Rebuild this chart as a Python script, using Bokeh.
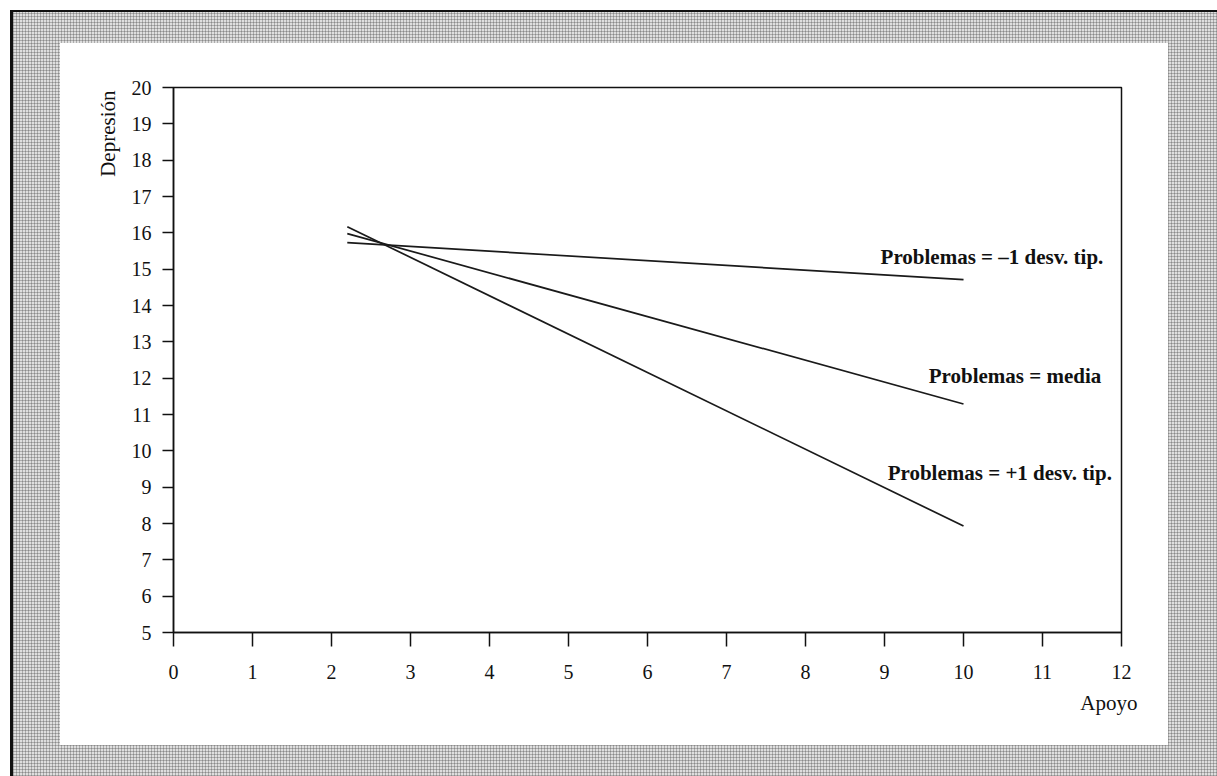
from bokeh.plotting import figure
from bokeh.models import Range1d, FixedTicker, Label, Title
from bokeh.embed import file_html
from bokeh.resources import INLINE

# ---- data ----
apoyo = [2.2, 10.0]
dep_low = [15.73, 14.71]    # Problemas = -1 desv. tip.
dep_mean = [15.98, 11.29]   # Problemas = media
dep_high = [16.17, 7.93]    # Problemas = +1 desv. tip.
series_labels = ["Problemas = \u20131 desv. tip.", "Problemas = media", "Problemas = +1 desv. tip."]
x_ticks = list(range(0, 13))
y_ticks = list(range(5, 21))
x_title = "Apoyo"
y_title = "Depresi\u00f3n"

SERIF = "Liberation Serif"
W, H = 1217, 776

p = figure(width=W, height=H, output_backend="svg", toolbar_location=None,
           x_range=Range1d(0, 12), y_range=Range1d(5, 20),
           min_border_left=173, min_border_right=96,
           min_border_top=87, min_border_bottom=144)
p.background_fill_color = "white"
p.border_fill_color = None
p.outline_line_color = "#111111"
p.outline_line_width = 1.5
p.grid.visible = False

# scanned-page look: halftone gray frame, white panel, black outer edges (host background)
bg_layers = [
    "linear-gradient(#111,#111) 10px 10px / 3px 766px no-repeat",
    "linear-gradient(#111,#111) 10px 10px / 1207px 2px no-repeat",
    "linear-gradient(#fff,#fff) 60px 43px / 1108px 702px no-repeat",
    "linear-gradient(#fff,#fff) 0px 0px / 10px 776px no-repeat",
    "linear-gradient(#fff,#fff) 0px 0px / 1217px 10px no-repeat",
    "radial-gradient(circle, #8a8a8a 0.8px, rgba(0,0,0,0) 1.3px) 0px 0px / 3px 3px repeat",
]
p.styles = {"background": ", ".join(bg_layers) + ", #dedede"}

for ax, ticks in ((p.xaxis[0], x_ticks), (p.yaxis[0], y_ticks)):
    ax.ticker = FixedTicker(ticks=ticks)
    ax.minor_tick_line_color = None
    ax.axis_line_color = "#111111"
    ax.axis_line_width = 1.5
    ax.major_tick_line_color = "#111111"
    ax.major_tick_line_width = 1.5
    ax.major_tick_in = 0
    ax.major_label_text_font = SERIF
    ax.major_label_text_font_size = "20px"
    ax.major_label_text_color = "#111111"
p.xaxis.major_tick_out = 14
p.xaxis.major_label_standoff = 18
p.yaxis.major_tick_out = 11
p.yaxis.major_label_standoff = 11

# axis titles as side titles (aligned to the axis ends, like the original)
p.add_layout(Title(text=y_title, align="right", offset=3, standoff=17,
                   text_font=SERIF, text_font_style="normal", text_font_size="21px",
                   text_color="#111111"), "left")
p.add_layout(Title(text=x_title, align="right", offset=-16, standoff=14,
                   text_font=SERIF, text_font_style="normal", text_font_size="21px",
                   text_color="#111111"), "below")

# lines
for ys in (dep_low, dep_mean, dep_high):
    p.line(apoyo, ys, line_color="#1a1a1a", line_width=1.7)

# series labels
label_pos = [(8.95, 15.34), (9.56, 12.07), (9.04, 9.39)]
for txt, (lx, ly) in zip(series_labels, label_pos):
    p.add_layout(Label(x=lx, y=ly, text=txt, text_font=SERIF, text_font_style="bold",
                       text_font_size="21px", text_align="left", text_baseline="middle",
                       text_color="#111111"))

open("out.html", "w").write(file_html(p, INLINE))
